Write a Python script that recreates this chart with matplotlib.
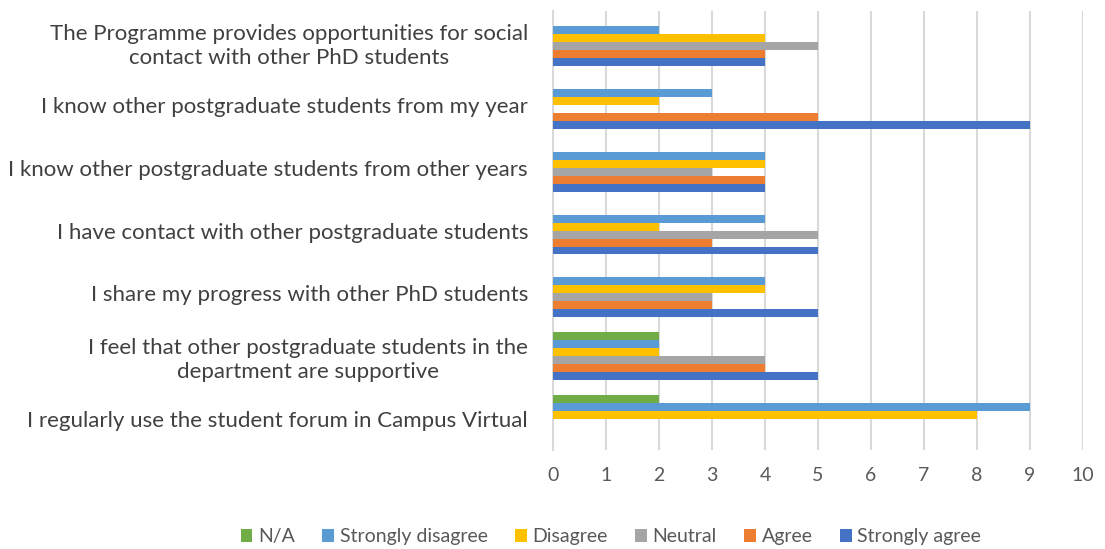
import numpy as np
import matplotlib.pyplot as plt

plt.rcParams['font.family'] = ['Lato', 'DejaVu Sans']

# categories listed bottom to top
categories = [
    "I regularly use the student forum in Campus Virtual",
    "I feel that other postgraduate students in the\ndepartment are supportive",
    "I share my progress with other PhD students",
    "I have contact with other postgraduate students",
    "I know other postgraduate students from other years",
    "I know other postgraduate students from my year",
    "The Programme provides opportunities for social\ncontact with other PhD students",
]

strongly_agree = [0, 5, 5, 5, 4, 9, 4]
agree = [0, 4, 3, 3, 4, 5, 4]
neutral = [0, 4, 3, 5, 3, 0, 5]
disagree = [8, 2, 4, 2, 4, 2, 4]
strongly_disagree = [9, 2, 4, 4, 4, 3, 2]
na = [2, 2, 0, 0, 0, 0, 0]

# drawn bottom to top within each group
series = [
    ("Strongly agree", strongly_agree, '#4472C4'),
    ("Agree", agree, '#ED7D31'),
    ("Neutral", neutral, '#A5A5A5'),
    ("Disagree", disagree, '#FFC000'),
    ("Strongly disagree", strongly_disagree, '#5B9BD5'),
    ("N/A", na, '#70AD47'),
]

fig = plt.figure(figsize=(11.05, 5.49), dpi=100)
ax = fig.add_axes([0.5005, 0.18, 0.4795, 0.80])

y = np.arange(len(categories))
h = 0.127
bars = {}
for k, (name, vals, col) in enumerate(series):
    off = (k - 2.5) * h
    bars[name] = ax.barh(y + off, vals, height=h, color=col, zorder=3)

ax.set_xlim(0, 10)
ax.set_ylim(-0.5, 6.5)
ax.set_xticks(range(0, 11))
ax.set_yticks(y)
ax.set_yticklabels(categories, ha='right', multialignment='center',
                   linespacing=1.25)
ax.tick_params(axis='y', length=0, pad=18, labelsize=16, labelcolor='#404040')
ax.tick_params(axis='x', length=0, pad=12, labelsize=14, labelcolor='#595959')
ax.grid(axis='x', color='#D9D9D9', linewidth=1.5, zorder=0)
for s in ['top', 'right', 'bottom']:
    ax.spines[s].set_visible(False)
ax.spines['left'].set_color('#D9D9D9')
ax.spines['left'].set_linewidth(1.5)

order = ["N/A", "Strongly disagree", "Disagree", "Neutral", "Agree", "Strongly agree"]
fig.legend([bars[n] for n in order], order, loc='center', ncol=6,
           bbox_to_anchor=(0.553, 0.022), frameon=False, fontsize=14,
           handlelength=0.6, handleheight=0.6, handletextpad=0.3,
           columnspacing=1.4, labelcolor='#595959')

fig.savefig('out.png', dpi=100)
